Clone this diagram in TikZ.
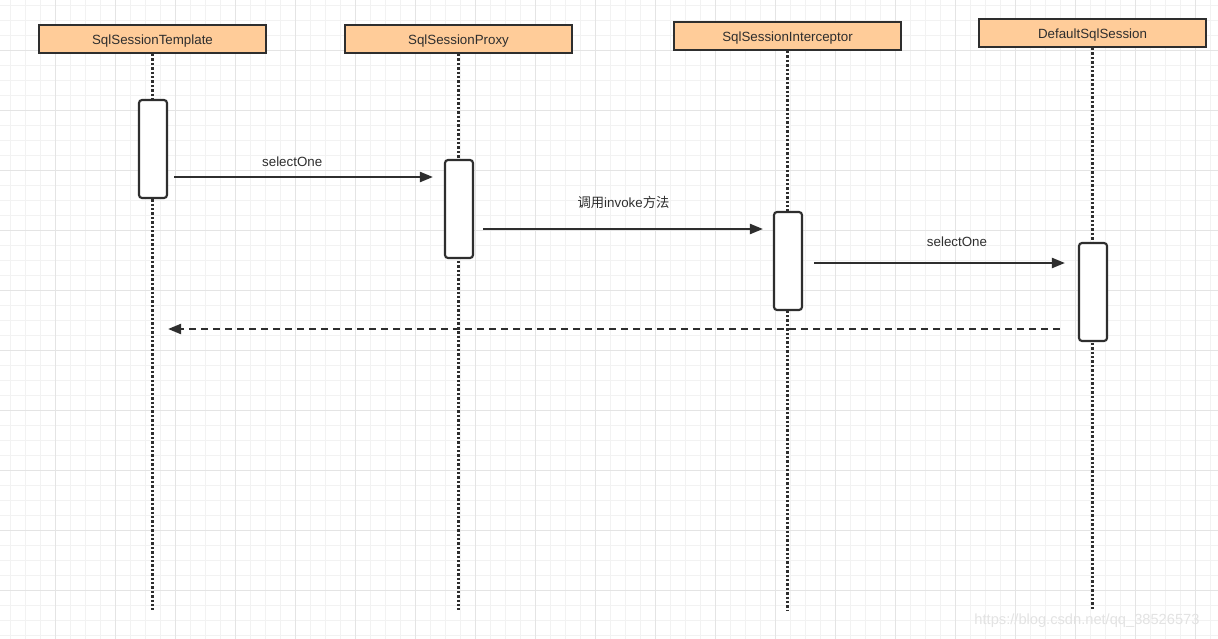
\documentclass[tikz,border=0pt]{standalone}
\usepackage{fontspec}
\setmainfont{Liberation Sans}
\newfontfamily\cjk{Noto Sans CJK SC}
\usetikzlibrary{arrows.meta,positioning,calc}
\definecolor{headfill}{HTML}{FFCC99}
\definecolor{inkgray}{HTML}{2E2E2E}
\definecolor{gridminor}{HTML}{F2F2F2}
\definecolor{gridmajor}{HTML}{E4E4E4}
\tikzset{%
  every actor/.style={
    rectangle,
    draw=inkgray,
    fill=headfill,
    line width=1.6pt,
    minimum width=170.25pt,
    minimum height=21pt,
    text height=9pt,
    text depth=1pt,
    text=inkgray,
    font=\fontsize{10}{12}\selectfont
  },
  activation box/.style={
    rectangle,
    rounded corners=2.25pt,
    draw=inkgray,
    fill=white,
    line width=1.6pt,
    minimum width=21pt,
    minimum height=73.5pt
  },
  life line/.style={
    draw=inkgray,
    line width=1.7pt,
    dash pattern=on 1.7pt off 1.6pt
  },
  call arrow/.style={
    draw=inkgray,
    line width=1.6pt,
    -{Triangle[length=9.75pt,width=7.5pt]}
  },
  return arrow/.style={
    call arrow,
    dash pattern=on 5.25pt off 3.75pt
  },
  msg label/.style={
    text=inkgray,
    font=\fontsize{10}{12}\selectfont
  },
}

\begin{document}
\begin{tikzpicture}[x=0.75pt,y=-0.75pt]
  \useasboundingbox (0,0) rectangle (1218,639);
  \fill[white] (0,0) rectangle (1218,639);
  % grid
  \foreach \gx in {10,25,...,1210} \draw[gridminor,line width=0.75pt] (\gx,0) -- (\gx,639);
  \foreach \gy in {5,20,...,635} \draw[gridminor,line width=0.75pt] (0,\gy) -- (1218,\gy);
  \foreach \gx in {55,115,...,1200} \draw[gridmajor,line width=0.75pt] (\gx,0) -- (\gx,639);
  \foreach \gy in {50,110,...,630} \draw[gridmajor,line width=0.75pt] (0,\gy) -- (1218,\gy);

  % participants
  \node[every actor] (tmpl)  at (152.5,39)  {SqlSessionTemplate};
  \node[every actor] (proxy) at (458.5,39)  {SqlSessionProxy};
  \node[every actor] (icpt)  at (787.5,36)  {SqlSessionInterceptor};
  \node[every actor] (dflt)  at (1092.5,33) {DefaultSqlSession};

  \coordinate (bottom) at (0,610);
  \foreach \who in {tmpl,proxy,icpt,dflt}
    \draw[life line] (\who.south) -- (\who.south |- bottom);

  % activations
  \node[activation box] (act1) at (153,149)  {};
  \node[activation box] (act2) at (459,209)  {};
  \node[activation box] (act3) at (788,261)  {};
  \node[activation box] (act4) at (1093,292) {};

  \coordinate (m1) at (0,177);
  \coordinate (m2) at (0,229);
  \coordinate (m3) at (0,263);
  \coordinate (m4) at (0,329);

  % messages
  \draw[call arrow, shorten <=4.5pt, shorten >=8.25pt]
    (act1.east |- m1) -- node[msg label, pos=0.45, yshift=11.25pt] {selectOne} (act2.west |- m1);
  \draw[call arrow, shorten <=6.75pt, shorten >=7.5pt]
    (act2.east |- m2) -- node[msg label, pos=0.5, yshift=20.25pt] {{\cjk 调用}invoke{\cjk 方法}} (act3.west |- m2);
  \draw[call arrow, shorten <=8.25pt, shorten >=9.75pt]
    (act3.east |- m3) -- node[msg label, pos=0.56, yshift=15.75pt] {selectOne} (act4.west |- m3);
  \draw[return arrow, shorten <=13.5pt]
    (act4.west |- m4) -- (act1.east |- m4);

  \node[text=gray!22, font=\fontsize{11}{13}\selectfont] (mark) at (1087,621) {https://blog.csdn.net/qq\_38526573};
\end{tikzpicture}
\end{document}
